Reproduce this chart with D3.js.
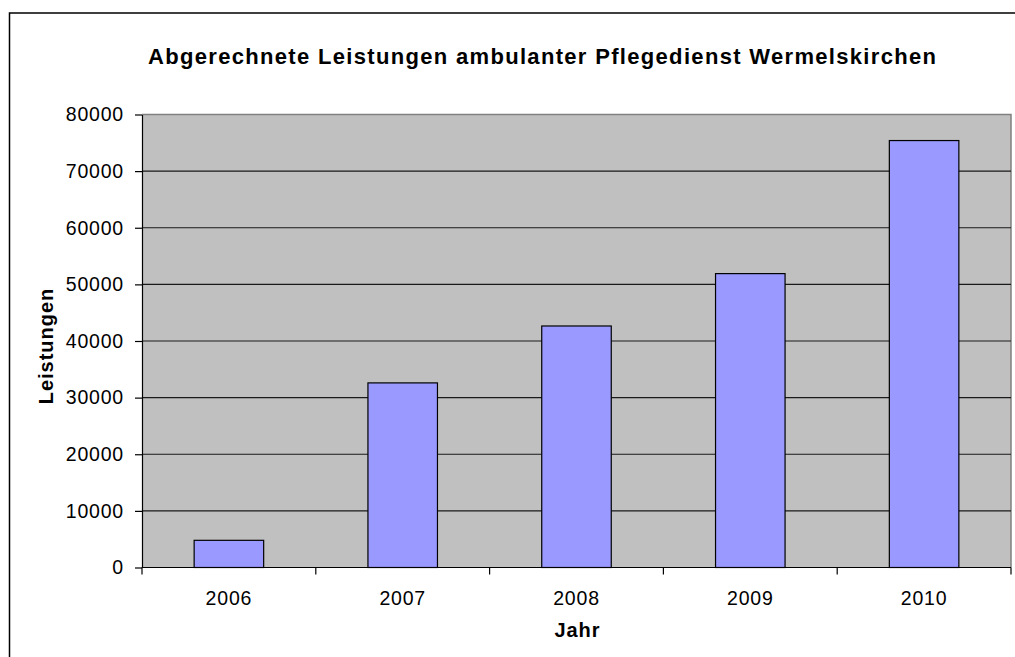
<!DOCTYPE html>
<html>
<head>
<meta charset="utf-8">
<script src="https://cdn.jsdelivr.net/npm/d3@7"></script>
<style>
  body { margin: 0; background: #fff; }
  svg { display: block; font-family: "Liberation Sans", Arial, sans-serif; }
</style>
</head>
<body>
<svg id="chart" width="1015" height="657"></svg>
<script>
// data
var years = ['2006', '2007', '2008', '2009', '2010']
var leistungen = [4800, 32600, 42650, 51900, 75400]
var yTicks = [0, 10000, 20000, 30000, 40000, 50000, 60000, 70000, 80000]

var width = 1015
var height = 657
var plotLeft = 142, plotRight = 1011, plotTop = 114.5, plotBottom = 567.5

var svg = d3.select('#chart')

// outer frame (runs past right and bottom edge)
svg.append('rect')
    .attr('x', 9.5).attr('y', 13)
    .attr('width', 1030).attr('height', 680)
    .attr('fill', 'none')
    .attr('stroke', '#000')
    .attr('stroke-width', 1.5)

var xScale = d3.scaleBand()
    .domain(years)
    .range([plotLeft, plotRight])
    .paddingInner(0.6)
    .paddingOuter(0.3)

var yScale = d3.scaleLinear()
    .domain([0, 80000])
    .range([plotBottom, plotTop])

// plot background
svg.append('rect')
    .attr('x', plotLeft).attr('y', plotTop)
    .attr('width', plotRight - plotLeft).attr('height', plotBottom - plotTop)
    .attr('fill', '#c0c0c0')

// gray border top + right
svg.append('path')
    .attr('d', `M ${plotLeft} ${plotTop} L ${plotRight} ${plotTop} L ${plotRight} ${plotBottom}`)
    .attr('fill', 'none')
    .attr('stroke', '#808080')
    .attr('stroke-width', 1.5)

// gridlines
svg.append('g').selectAll('line')
    .data(yTicks.filter(d => d > 0 && d < 80000))
    .enter().append('line')
    .attr('x1', plotLeft).attr('x2', plotRight)
    .attr('y1', d => yScale(d)).attr('y2', d => yScale(d))
    .attr('stroke', '#1a1a1a')
    .attr('stroke-width', 1.2)

// bars
svg.append('g').selectAll('rect')
    .data(years)
    .enter().append('rect')
    .attr('x', d => xScale(d))
    .attr('y', (d, i) => yScale(leistungen[i]))
    .attr('width', xScale.bandwidth())
    .attr('height', (d, i) => yScale(0) - yScale(leistungen[i]))
    .attr('fill', '#9999ff')
    .attr('stroke', '#000')
    .attr('stroke-width', 1.2)

// y axis
var yAxis = d3.axisLeft(yScale).tickValues(yTicks).tickFormat(d3.format('d'))
    .tickSize(7).tickPadding(11).tickSizeOuter(0)
var yG = svg.append('g').attr('transform', `translate(${plotLeft},0)`).call(yAxis)
yG.select('.domain').attr('stroke', '#000').attr('stroke-width', 1.2)
yG.selectAll('.tick line').attr('stroke', '#000').attr('stroke-width', 1.2)
yG.selectAll('.tick text')
    .attr('font-size', 19.5)
    .attr('font-family', '"Liberation Sans", Arial, sans-serif')
    .attr('fill', '#000')
    .style('letter-spacing', '0.8px')

// x axis: ticks between the categories
var xG = svg.append('g').attr('transform', `translate(0,${plotBottom})`)
xG.append('line')
    .attr('x1', plotLeft).attr('x2', plotRight)
    .attr('stroke', '#000').attr('stroke-width', 1.2)
var boundaries = d3.range(years.length + 1).map(i => plotLeft + i * (plotRight - plotLeft) / years.length)
xG.selectAll('line.tk')
    .data(boundaries)
    .enter().append('line')
    .attr('class', 'tk')
    .attr('x1', d => d).attr('x2', d => d)
    .attr('y1', 0).attr('y2', 7)
    .attr('stroke', '#000').attr('stroke-width', 1.2)
xG.selectAll('text')
    .data(years)
    .enter().append('text')
    .attr('x', d => xScale(d) + xScale.bandwidth() / 2)
    .attr('y', 37.5)
    .attr('text-anchor', 'middle')
    .attr('font-size', 19.5)
    .style('letter-spacing', '0.8px')
    .text(d => d)

// title
svg.append('text')
    .attr('x', 148).attr('y', 64)
    .attr('font-size', 22)
    .attr('font-weight', 'bold')
    .attr('textLength', 788)
    .attr('lengthAdjust', 'spacing')
    .text('Abgerechnete Leistungen ambulanter Pflegedienst Wermelskirchen')

// axis titles
svg.append('text')
    .attr('x', (plotLeft + plotRight) / 2 + 1).attr('y', 637)
    .attr('text-anchor', 'middle')
    .attr('font-size', 20)
    .attr('font-weight', 'bold')
    .style('letter-spacing', '1px')
    .text('Jahr')

svg.append('text')
    .attr('transform', 'translate(53,346) rotate(-90)')
    .attr('text-anchor', 'middle')
    .attr('font-size', 20)
    .attr('font-weight', 'bold')
    .style('letter-spacing', '1px')
    .text('Leistungen')
</script>
</body>
</html>
